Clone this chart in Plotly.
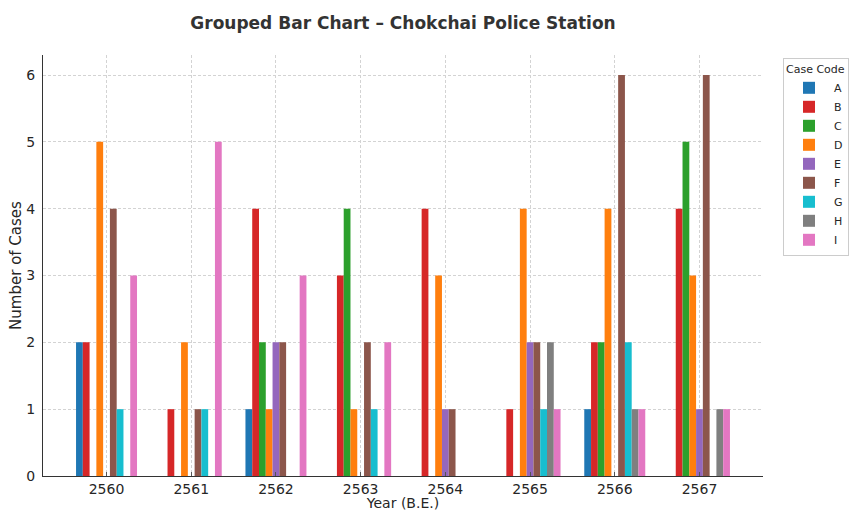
import plotly.graph_objects as go

# Years (Buddhist Era) and case counts per case code
years = [2560, 2561, 2562, 2563, 2564, 2565, 2566, 2567]
codes = ["A", "B", "C", "D", "E", "F", "G", "H", "I"]

case_a = [2, 0, 1, 0, 0, 0, 1, 0]
case_b = [2, 1, 4, 3, 4, 1, 2, 4]
case_c = [0, 0, 2, 4, 0, 0, 2, 5]
case_d = [5, 2, 1, 1, 3, 4, 4, 3]
case_e = [0, 0, 2, 0, 1, 2, 0, 1]
case_f = [4, 1, 2, 2, 1, 2, 6, 6]
case_g = [1, 1, 0, 1, 0, 1, 2, 0]
case_h = [0, 0, 0, 0, 0, 2, 1, 1]
case_i = [3, 5, 3, 2, 0, 1, 1, 1]

series = [case_a, case_b, case_c, case_d, case_e, case_f, case_g, case_h, case_i]
colors = ["#1f77b4", "#d62728", "#2ca02c", "#ff7f0e", "#9467bd",
          "#8c564b", "#17becf", "#7f7f7f", "#e377c2"]

font_family = "DejaVu Sans"
text_color = "#262626"

fig = go.Figure()
for code, values, color in zip(codes, series, colors):
    fig.add_trace(go.Bar(
        x=years, y=values, name=code,
        marker=dict(color=color, line=dict(width=0)),
    ))

fig.update_layout(
    width=854, height=511,
    margin=dict(l=43, r=91, t=55, b=35, autoexpand=False),
    paper_bgcolor="white", plot_bgcolor="white",
    barmode="group", bargap=0.28, bargroupgap=0,
    font=dict(family=font_family, color=text_color, size=14),
    title=dict(
        text="<b>Grouped Bar Chart – Chokchai Police Station</b>",
        x=0.5, xref="paper", xanchor="center",
        y=1 - 23 / 511, yref="container", yanchor="middle",
        font=dict(family=font_family, size=17, color="#333333"),
    ),
    legend=dict(
        title=dict(text="Case Code", font=dict(size=11, color=text_color)),
        font=dict(size=11, color=text_color),
        xref="container", yref="container",
        x=783 / 854, xanchor="left", y=1 - 58 / 511, yanchor="top",
        bgcolor="white", bordercolor="#cccccc", borderwidth=1,
        tracegroupgap=0, itemwidth=40,
    ),
)

fig.update_xaxes(
    range=[2559.25, 2567.75],
    tickmode="array", tickvals=years, ticktext=[str(y) for y in years],
    showline=True, linecolor="#333333", linewidth=1.2,
    showgrid=True, gridcolor="#d3d3d3", gridwidth=1, griddash="3px,2px",
    ticks="inside", ticklen=4, tickcolor="#555555",
    tickfont=dict(size=14, color=text_color),
    title=dict(text="Year (B.E.)", font=dict(size=14, color=text_color), standoff=6),
    automargin=False, zeroline=False,
)
fig.update_yaxes(
    range=[0, 6.3],
    tickmode="array", tickvals=[0, 1, 2, 3, 4, 5, 6],
    showline=True, linecolor="#333333", linewidth=1.2,
    showgrid=True, gridcolor="#d3d3d3", gridwidth=1, griddash="3px,2px",
    ticks="", ticklabelstandoff=4,
    tickfont=dict(size=14, color=text_color),
    title=dict(text="Number of Cases", font=dict(size=15, color=text_color), standoff=0),
    automargin=False, zeroline=False,
)

fig.write_html("out.html")
